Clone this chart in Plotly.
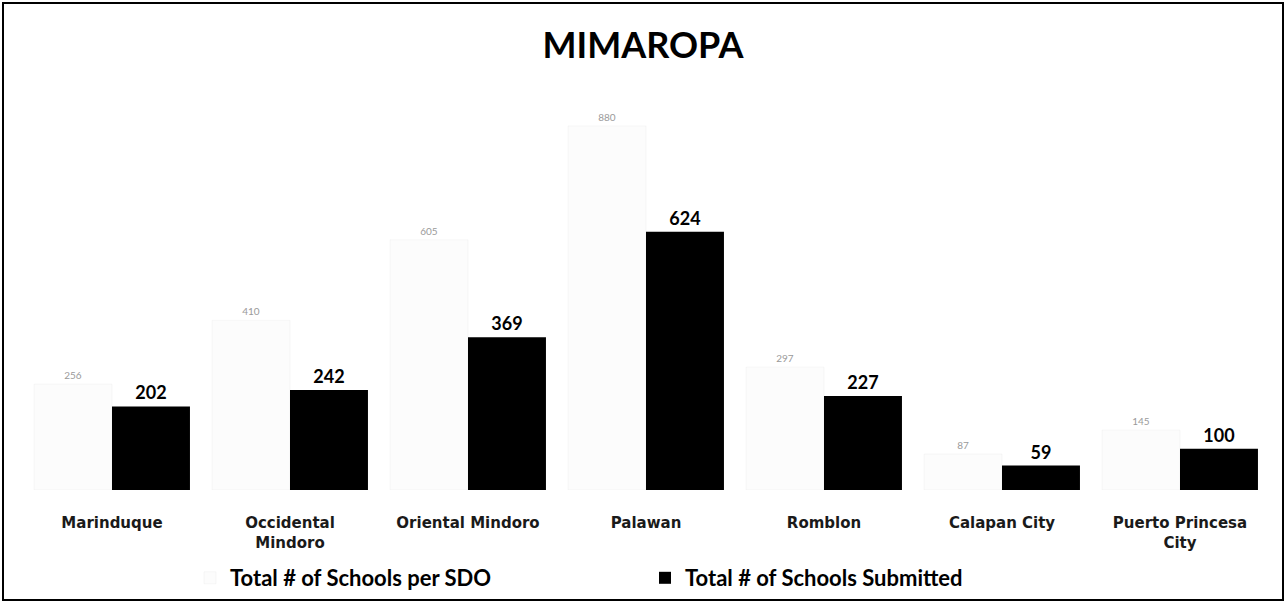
import plotly.graph_objects as go

categories = ["Marinduque", "Occidental<br>Mindoro", "Oriental Mindoro", "Palawan",
              "Romblon", "Calapan City", "Puerto Princesa<br>City"]
total_per_sdo = [256, 410, 605, 880, 297, 87, 145]
total_submitted = [202, 242, 369, 624, 227, 59, 100]

W, H = 1286, 604
ML, MR, MT, MB = 23, 17, 97, 114
PW = W - ML - MR
PH = H - MT - MB

fig = go.Figure()
fig.add_trace(go.Bar(
    x=categories, y=total_per_sdo, name="<b>Total # of Schools per SDO</b>",
    marker=dict(color="rgba(240,240,240,0.2)", line=dict(color="rgba(210,210,210,0.15)", width=1)),
    text=total_per_sdo, textposition="outside",
    textfont=dict(family="Lato", size=10, color="#9a9a9a"),
    cliponaxis=False,
))
fig.add_trace(go.Bar(
    x=categories, y=total_submitted, name="<b>Total # of Schools Submitted</b>",
    marker=dict(color="#000000", line=dict(width=0)),
    text=total_submitted, textposition="outside",
    texttemplate="<b>%{text}</b>",
    textfont=dict(family="Lato", size=18, color="#000000"),
    cliponaxis=False,
))

fig.update_layout(
    width=W, height=H,
    margin=dict(l=ML, r=MR, t=MT, b=MB, autoexpand=False),
    paper_bgcolor="white", plot_bgcolor="white",
    barmode="group", bargap=0.124, bargroupgap=0,
    title=dict(text="<b>MIMAROPA</b>", x=0.5, xanchor="center", y=1 - 45 / H, yanchor="middle",
               font=dict(family="Lato", size=36, color="#000000")),
    xaxis=dict(showline=False, showgrid=False, zeroline=False, ticks="",
               tickfont=dict(family="DejaVu Sans", size=15, color="#1a1a1a", weight="bold"),
               ticklabelstandoff=22),
    yaxis=dict(range=[0, 950], visible=False, showgrid=False, zeroline=False),
    legend=dict(orientation="h", xref="container", yref="container",
                x=190 / W, xanchor="left", y=1 - 578 / H, yanchor="middle",
                font=dict(family="Lato", size=22, color="#000000"),
                itemwidth=30, entrywidth=410, traceorder="normal"),
    showlegend=True,
    shapes=[dict(type="rect", xref="paper", yref="paper",
                 x0=(3 - ML) / PW, x1=(1283 - ML) / PW,
                 y0=(H - MB - 600) / PH, y1=(H - MB - 3) / PH,
                 line=dict(color="#000000", width=2), fillcolor="rgba(0,0,0,0)")],
)

fig.write_html("out.html", config={"displayModeBar": False},
               post_script="document.body.style.margin='0';")
